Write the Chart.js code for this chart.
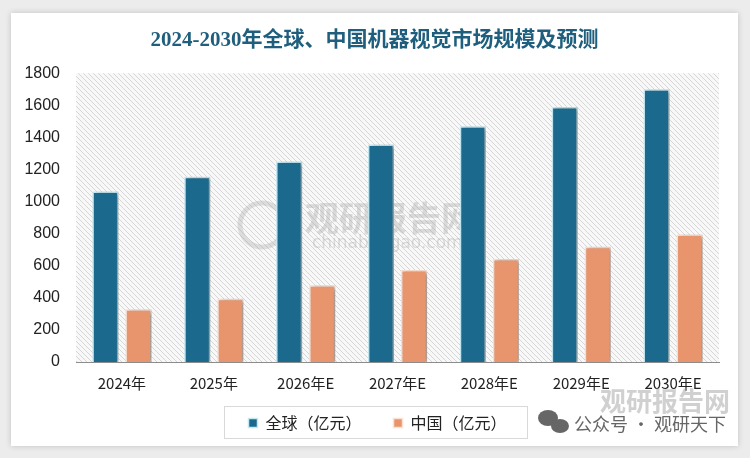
<!DOCTYPE html>
<html>
<head>
<meta charset="utf-8">
<script src="https://cdn.jsdelivr.net/npm/chart.js@4/dist/chart.umd.min.js"></script>
<style>
  html,body{margin:0;padding:0;background:#ececec;width:750px;height:458px;overflow:hidden;}
  #card{position:absolute;left:11px;top:13px;width:727px;height:433px;background:#fff;box-shadow:0 0 6px rgba(0,0,0,0.18);}
  #c{position:absolute;left:0;top:0;}
</style>
</head>
<body>
<div id="card"></div>
<canvas id="c" width="750" height="458"></canvas>
<script>
// 2024-2030 全球/中国 机器视觉市场规模
const years = ["2024年","2025年","2026年E","2027年E","2028年E","2029年E","2030年E"];
const globalVals = [1063,1155,1250,1356,1469,1590,1700];
const chinaVals  = [328,394,479,573,642,718,795];
const yTicks = [0,200,400,600,800,1000,1200,1400,1600,1800];

const FONT_CN = '"Noto Sans CJK SC", sans-serif';

function hatch(){
  const p=document.createElement("canvas"); p.width=5; p.height=5;
  const g=p.getContext("2d");
  g.fillStyle="#f8f8f8"; g.fillRect(0,0,5,5);
  g.strokeStyle="#d6d6d6"; g.lineWidth=1;
  g.beginPath(); g.moveTo(0,0); g.lineTo(5,5); g.moveTo(-1,4); g.lineTo(1,6); g.moveTo(4,-1); g.lineTo(6,1); g.stroke();
  return p;
}

const bgPlugin = {
  id:"bg",
  afterLayout(chart){
    // legend sits a bit higher and right, title centred on the card
    const lg=chart.legend, dy=-13, dx=18;
    lg.top+=dy; lg.bottom+=dy; lg.left+=dx; lg.right+=dx;
    (lg.legendHitBoxes||[]).forEach(h=>{ h.top+=dy; h.left+=dx; });
    const t=chart.titleBlock; t.left+=15; t.right+=15;
  },
  beforeDraw(chart){
    const {ctx,chartArea:a}=chart;
    ctx.save();
    ctx.fillStyle=ctx.createPattern(hatch(),"repeat");
    ctx.fillRect(a.left,a.top,a.right-a.left,a.bottom-a.top);
    // watermark
    ctx.fillStyle="rgba(160,160,160,0.35)";
    ctx.font='bold 34px '+FONT_CN; ctx.textBaseline="middle"; ctx.textAlign="left";
    ctx.fillText("观研报告网",305,218);
    ctx.font='17px "DejaVu Sans"';
    ctx.fillText("chinabaogao.com",312,244);
    ctx.lineWidth=5; ctx.strokeStyle="rgba(170,170,170,0.35)";
    ctx.beginPath(); ctx.arc(262,225,22,0.6,Math.PI*1.9); ctx.stroke();
    ctx.restore();
  },
  beforeDatasetsDraw(chart){
    const ctx=chart.ctx; ctx.save();
    ctx.shadowColor="rgba(0,0,0,0.35)"; ctx.shadowBlur=4; ctx.shadowOffsetX=3; ctx.shadowOffsetY=1;
  },
  afterDatasetsDraw(chart){ chart.ctx.restore(); },
  afterDraw(chart){
    const {ctx}=chart, lg=chart.legend, hb=lg.legendHitBoxes;
    if(hb && hb.length){
      const f=hb[0], l=hb[hb.length-1];
      const top=lg.top+lg.options.labels.padding-9;
      ctx.save();
      ctx.strokeStyle="#d9d9d9"; ctx.lineWidth=1;
      ctx.strokeRect(Math.round(f.left-24)+0.5,Math.round(top)+0.5,Math.round(l.left+l.width-f.left+45),32);
      ctx.restore();
    }
    // bottom-right source mark
    ctx.save();
    ctx.fillStyle="rgba(150,150,150,0.45)";
    ctx.font='bold 26px '+FONT_CN; ctx.textBaseline="middle";
    ctx.fillText("观研报告网",600,401);
    ctx.fillStyle="#666";
    ctx.beginPath(); ctx.ellipse(548,418,10,8,0,0,Math.PI*2); ctx.fill();
    ctx.beginPath(); ctx.ellipse(560,426,9,7,0,0,Math.PI*2); ctx.fill();
    ctx.font='18px '+FONT_CN;
    ctx.fillText("公众号 · 观研天下",574,424);
    ctx.restore();
  }
};

new Chart(document.getElementById("c"),{
  type:"bar",
  data:{
    labels:years,
    datasets:[
      {label:"全球（亿元）",data:globalVals,backgroundColor:"#1b6a8d",borderColor:"#c4e9f3",borderWidth:1.5,borderSkipped:"bottom"},
      {label:"中国（亿元）",data:chinaVals,backgroundColor:"#e8956d",borderColor:"#fbe1d2",borderWidth:1.5,borderSkipped:"bottom"}
    ]
  },
  options:{
    responsive:false,
    animation:false,
    layout:{padding:{left:0,right:31,top:0,bottom:4}},
    datasets:{bar:{categoryPercentage:0.72,barPercentage:0.79}},
    scales:{
      x:{
        grid:{display:false,drawTicks:false},
        border:{display:true,color:"#8c8c8c",width:1},
        ticks:{color:"#222",font:{family:'"Liberation Sans Narrow", '+FONT_CN,size:15},padding:12,maxRotation:0},
        afterFit(ax){ ax.height=34; }
      },
      y:{
        min:0,max:1800,
        afterBuildTicks(ax){ ax.ticks=yTicks.map(v=>({value:v})); },
        grid:{display:false,drawTicks:false},
        border:{display:false},
        ticks:{color:"#222",font:{family:'"Liberation Sans", sans-serif',size:16},padding:16,callback:v=>String(v)},
        afterFit(ax){ ax.width=76; }
      }
    },
    plugins:{
      title:{display:true,text:"2024-2030年全球、中国机器视觉市场规模及预测",color:"#1f5f7d",
        font:{family:'"Liberation Serif", '+FONT_CN,size:21,weight:"bold"},padding:{top:28,bottom:20}},
      legend:{position:"bottom",align:"center",
        labels:{boxWidth:9,boxHeight:9,padding:32,color:"#222",font:{family:FONT_CN,size:16}}},
      tooltip:{enabled:false}
    }
  },
  plugins:[bgPlugin]
});
</script>
</body>
</html>
